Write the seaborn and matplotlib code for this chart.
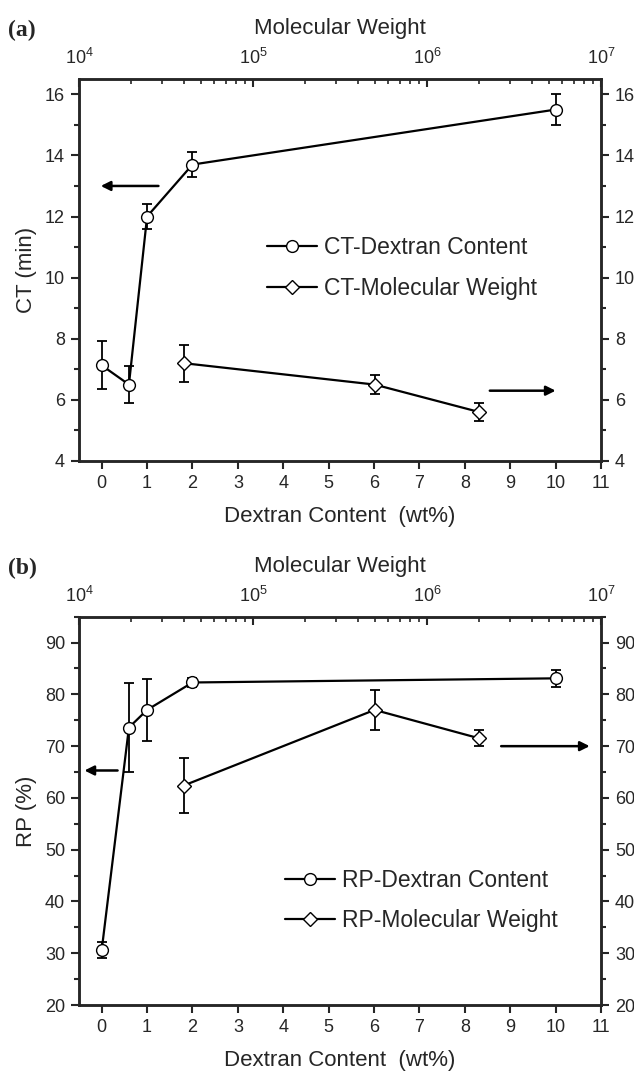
import numpy as np
import pandas as pd
import seaborn as sns
import matplotlib.pyplot as plt
from matplotlib.ticker import MultipleLocator, LogLocator

# panel (a): clotting time
content = [0, 0.6, 1, 2, 10]
ct_content = [7.13, 6.5, 12.0, 13.7, 15.5]
ct_content_lo = [6.35, 5.9, 11.6, 13.3, 15.0]
ct_content_hi = [7.93, 7.1, 12.4, 14.1, 16.0]

mol_weight = [4e4, 5e5, 2e6]
ct_mw = [7.2, 6.5, 5.6]
ct_mw_lo = [6.6, 6.2, 5.3]
ct_mw_hi = [7.8, 6.8, 5.9]

# panel (b): RP
rp_content = [30.6, 73.6, 77.0, 82.3, 83.1]
rp_content_lo = [29.0, 65.0, 71.0, 81.5, 81.5]
rp_content_hi = [32.2, 82.2, 82.9, 83.1, 84.8]

rp_mw = [62.4, 77.0, 71.5]
rp_mw_lo = [57.1, 73.2, 70.0]
rp_mw_hi = [67.7, 80.9, 73.1]

sns.set_style("ticks")
plt.rcParams['font.family'] = ['Liberation Sans', 'DejaVu Sans']
plt.rcParams['mathtext.default'] = 'regular'

fig = plt.figure(figsize=(6.34, 10.75), dpi=100)


def panel(rect, x1, y1, lo1, hi1, x2, y2, lo2, hi2, ylim, major, minor,
          ylabel, names, letter, letter_y, leg_anchor, larrow, rarrow):
    ax = fig.add_axes(rect)
    ax_top = ax.twiny()

    df1 = pd.DataFrame({'x': x1, 'y': y1})
    df2 = pd.DataFrame({'x': x2, 'y': y2})

    ax.errorbar(x1, y1, yerr=[np.subtract(y1, lo1), np.subtract(hi1, y1)],
                fmt='none', ecolor='black', elinewidth=1.3, capsize=3.5,
                capthick=1.3, zorder=2)
    sns.lineplot(data=df1, x='x', y='y', ax=ax, color='black', lw=1.6,
                 marker='o', ms=8.5, mfc='white', mec='black', mew=1.0,
                 label=names[0], zorder=3, legend=False)

    ax_top.errorbar(x2, y2, yerr=[np.subtract(y2, lo2), np.subtract(hi2, y2)],
                    fmt='none', ecolor='black', elinewidth=1.3, capsize=3.5,
                    capthick=1.3, zorder=2)
    sns.lineplot(data=df2, x='x', y='y', ax=ax_top, color='black', lw=1.6,
                 marker='D', ms=7.5, mfc='white', mec='black', mew=1.0,
                 label=names[1], zorder=3, legend=False)

    ax.set_xlim(-0.5, 11)
    ax.set_ylim(*ylim)
    ax.xaxis.set_major_locator(MultipleLocator(1))
    ax.yaxis.set_major_locator(MultipleLocator(major))
    ax.yaxis.set_minor_locator(MultipleLocator(minor))
    ax.tick_params(axis='both', which='major', direction='out', length=6,
                   width=1.5, labelsize=13, pad=4)
    ax.tick_params(axis='y', which='minor', direction='out', length=3.5,
                   width=1.5)
    ax.tick_params(axis='y', which='both', right=True, labelright=True)
    ax.set_xlabel('Dextran Content  (wt%)', fontsize=16, labelpad=10)
    ax.set_ylabel(ylabel, fontsize=16, labelpad=6)

    ax_top.set_xscale('log')
    ax_top.set_xlim(1e4, 1e7)
    ax_top.xaxis.set_major_locator(LogLocator(base=10))
    ax_top.xaxis.set_minor_locator(LogLocator(base=10, subs=np.arange(2, 10)))
    ax_top.tick_params(axis='x', which='major', direction='in', length=6,
                       width=1.5, labelsize=13, pad=8)
    ax_top.tick_params(axis='x', which='minor', direction='in', length=3.5,
                       width=1.2)
    ax_top.set_xlabel('Molecular Weight', fontsize=16, labelpad=10)
    ax_top.set_ylabel('')

    for a in (ax, ax_top):
        for s in a.spines.values():
            s.set_linewidth(1.8)
            s.set_visible(True)

    ax.annotate('', xy=(larrow[1], larrow[2]), xytext=(larrow[0], larrow[2]),
                arrowprops=dict(arrowstyle='-|>', color='black', lw=1.8,
                                mutation_scale=14, shrinkA=0, shrinkB=0))
    ax.annotate('', xy=(rarrow[1], rarrow[2]), xytext=(rarrow[0], rarrow[2]),
                arrowprops=dict(arrowstyle='-|>', color='black', lw=1.8,
                                mutation_scale=14, shrinkA=0, shrinkB=0))

    h1, l1 = ax.get_legend_handles_labels()
    h2, l2 = ax_top.get_legend_handles_labels()
    ax_top.legend(h1 + h2, l1 + l2, loc='center left',
                  bbox_to_anchor=leg_anchor, bbox_transform=ax_top.transAxes,
                  frameon=False, fontsize=16.5, handlelength=2.2,
                  handletextpad=0.3, labelspacing=0.75)

    fig.text(0.012, letter_y, letter, fontsize=17, fontweight='bold',
             family='Liberation Serif', va='center')
    return ax


panel([0.1246, 0.5712, 0.8234, 0.3553], content, ct_content, ct_content_lo,
      ct_content_hi, mol_weight, ct_mw, ct_mw_lo, ct_mw_hi, (4, 16.5), 2, 1,
      'CT (min)', ['CT-Dextran Content', 'CT-Molecular Weight'], '(a)',
      1 - 30 / 1075, (0.32, 0.505), (1.25, -0.02, 13.0), (8.55, 10.0, 6.3))

panel([0.1246, 0.0651, 0.8234, 0.3612], content, rp_content, rp_content_lo,
      rp_content_hi, mol_weight, rp_mw, rp_mw_lo, rp_mw_hi, (20, 95), 10, 5,
      'RP (%)', ['RP-Dextran Content', 'RP-Molecular Weight'], '(b)',
      1 - 568 / 1075, (0.355, 0.27), (0.35, -0.38, 65.3), (8.8, 10.75, 70.0))

fig.savefig('out.png', dpi=100)
